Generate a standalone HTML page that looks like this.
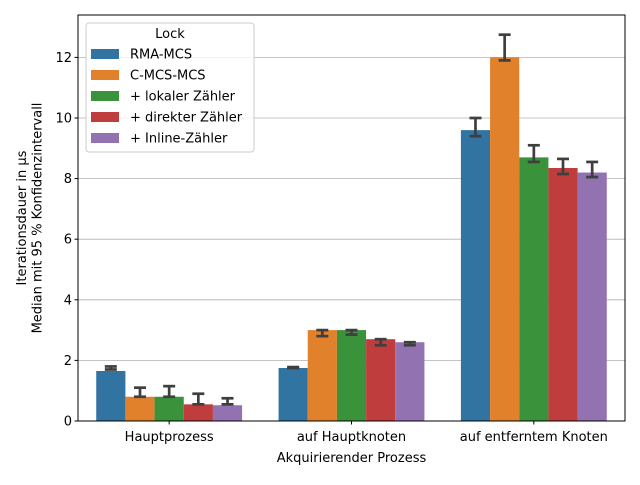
<!DOCTYPE html>
<html><head><meta charset="utf-8"><style>
body{margin:0;background:#fff}
svg text{font-family:"DejaVu Sans","Liberation Sans",sans-serif;fill:#000}
</style></head><body>
<svg id="chart" width="640" height="480" xmlns="http://www.w3.org/2000/svg">
<g id="grid"></g>
<g id="bars"></g>
<g id="errs"></g>
<rect x="78" y="15" width="547" height="406" fill="none" stroke="#000" stroke-width="1"/>
<g id="yticks"></g>
<g id="xticks"></g>
<text x="351.5" y="462" font-size="13" text-anchor="middle">Akquirierender Prozess</text>
<text transform="translate(26,218) rotate(-90)" font-size="13" text-anchor="middle"><tspan x="0" dy="0">Iterationsdauer in µs</tspan><tspan x="0" dy="15.5">Median mit 95 % Konfidenzintervall</tspan></text>
<g id="legend">
<rect x="86" y="23" width="168" height="129" rx="3" fill="#fff" fill-opacity="0.8" stroke="#ccc"/>
<text x="170" y="38" font-size="13" text-anchor="middle">Lock</text>
</g>
</svg>
<script>
const categories=["Hauptprozess","auf Hauptknoten","auf entferntem Knoten"];
const seriesNames=["RMA-MCS","C-MCS-MCS","+ lokaler Zähler","+ direkter Zähler","+ Inline-Zähler"];
const colors=["#3274a1","#e1812c","#3a923a","#c03d3e","#9372b2"];
const rmaVals=[1.65,1.75,9.6];
const cmcsVals=[0.8,3.0,12.0];
const lokalVals=[0.8,3.0,8.7];
const direktVals=[0.55,2.7,8.35];
const inlineVals=[0.52,2.6,8.2];
const rmaLo=[1.7,1.75,9.4], rmaHi=[1.8,1.78,10.0];
const cmcsLo=[0.8,2.8,11.9], cmcsHi=[1.1,3.0,12.75];
const lokalLo=[0.8,2.85,8.55], lokalHi=[1.15,3.0,9.1];
const direktLo=[0.55,2.5,8.15], direktHi=[0.9,2.7,8.65];
const inlineLo=[0.55,2.5,8.05], inlineHi=[0.75,2.6,8.55];
const yTicks=[0,2,4,6,8,10,12];
const values=[rmaVals,cmcsVals,lokalVals,direktVals,inlineVals];
const los=[rmaLo,cmcsLo,lokalLo,direktLo,inlineLo];
const his=[rmaHi,cmcsHi,lokalHi,direktHi,inlineHi];
const NS="http://www.w3.org/2000/svg";
const X0=78,X1=625,Y0=421,PPU=30.3;
const y=v=>Y0-v*PPU;
const band=(X1-X0)/categories.length;
const bw=band*0.8/seriesNames.length;
const x=(c,s)=>X0+band*c+band*0.1+bw*s;
function mk(p,tag,a){const e=document.createElementNS(NS,tag);for(const k in a)e.setAttribute(k,a[k]);p.appendChild(e);return e;}
const grid=document.getElementById('grid'),yt=document.getElementById('yticks');
yTicks.forEach(t=>{
 const g=mk(grid,'line',{x1:X0,x2:X1,y1:y(t),y2:y(t),stroke:'#b0b0b0','stroke-width':0.8});
 
 
 mk(yt,'line',{x1:X0-3.5,x2:X0,y1:y(t),y2:y(t),stroke:'#000'});
 const tx=mk(yt,'text',{x:X0-6,y:y(t)+4.5,'font-size':13,'text-anchor':'end'});tx.textContent=t;
 
 
});
const xt=document.getElementById('xticks');
categories.forEach((c,i)=>{
 const cx=X0+band*(i+0.5);
 mk(xt,'line',{x1:cx,x2:cx,y1:Y0,y2:Y0+3.5,stroke:'#000'});
 const t=mk(xt,'text',{x:cx,y:Y0+20,'font-size':13,'text-anchor':'middle'});t.textContent=c;
 
 
});
const bars=document.getElementById('bars'),errs=document.getElementById('errs');
values.forEach((arr,s)=>{arr.forEach((v,c)=>{
 const r=mk(bars,'rect',{x:x(c,s),y:y(v),width:bw,height:Y0-y(v),fill:colors[s]});
 
 
 const cx=x(c,s)+bw/2,lo=y(los[s][c]),hi=y(his[s][c]);
 const g=mk(errs,'g',{stroke:'#3f3f3f','stroke-width':2.7});
 
 
 mk(g,'line',{x1:cx,x2:cx,y1:lo,y2:hi});
 mk(g,'line',{x1:cx-6,x2:cx+6,y1:lo,y2:lo});
 mk(g,'line',{x1:cx-6,x2:cx+6,y1:hi,y2:hi});
});});
const lg=document.getElementById('legend');
seriesNames.forEach((n,i)=>{
 const yy=54+i*21;
 const r=mk(lg,'rect',{x:91,y:yy-5,width:28,height:10,fill:colors[i]});
 
 
 const t=mk(lg,'text',{x:130,y:yy+4.5,'font-size':13});t.textContent=n;
 
 
});
</script>
</body></html>
